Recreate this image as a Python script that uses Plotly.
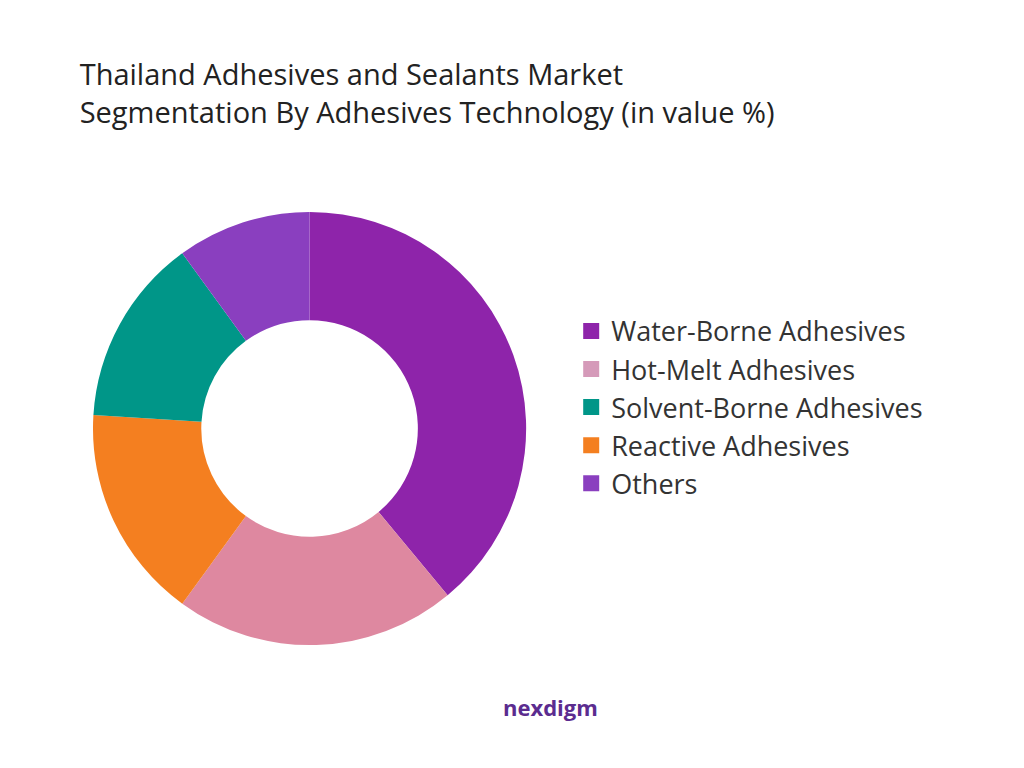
import plotly.graph_objects as go

slice_labels = ["Water-Borne Adhesives", "Hot-Melt Adhesives", "Reactive Adhesives", "Solvent-Borne Adhesives", "Others"]
slice_values = [39, 21, 16, 14, 10]
slice_colors = ["#8E24AA", "#DE88A0", "#F47F20", "#009688", "#8A3FBF"]

legend_labels = ["Water-Borne Adhesives", "Hot-Melt Adhesives", "Solvent-Borne Adhesives", "Reactive Adhesives", "Others"]
legend_colors = ["#8E24AA", "#D59AB9", "#009688", "#F47F20", "#8A3FBF"]

fig = go.Figure(go.Pie(
    labels=slice_labels, values=slice_values, hole=0.5, sort=False, direction="clockwise", rotation=0,
    marker=dict(colors=slice_colors), textinfo="none", hoverinfo="label+percent", showlegend=False,
    domain=dict(x=[0.083, 0.506], y=[0.17, 0.735]),
))
for lab, col in zip(legend_labels, legend_colors):
    fig.add_trace(go.Scatter(x=[None], y=[None], mode="markers", name=lab,
                             marker=dict(symbol="square", size=18, color=col)))
fig.update_xaxes(visible=False)
fig.update_yaxes(visible=False)
fig.update_layout(
    width=1024, height=768, paper_bgcolor="white", plot_bgcolor="white",
    margin=dict(l=0, r=0, t=0, b=0),
    title=dict(text="Thailand Adhesives and Sealants Market<br>Segmentation By Adhesives Technology (in value %)",
               x=0.07, xanchor="left", y=0.9, yanchor="top",
               font=dict(family="Open Sans", size=29, color="#222")),
    legend=dict(x=0.55, y=0.48, xanchor="left", yanchor="middle",
                font=dict(family="Open Sans", size=27, color="#333"), itemwidth=30, tracegroupgap=0),
    annotations=[dict(text="<b>nexdigm</b>", x=0.53, y=0.068, xref="paper", yref="paper",
                      showarrow=False, font=dict(family="Open Sans", size=22, color="#5B2C8F"))],
)
fig.write_html("out.html")
